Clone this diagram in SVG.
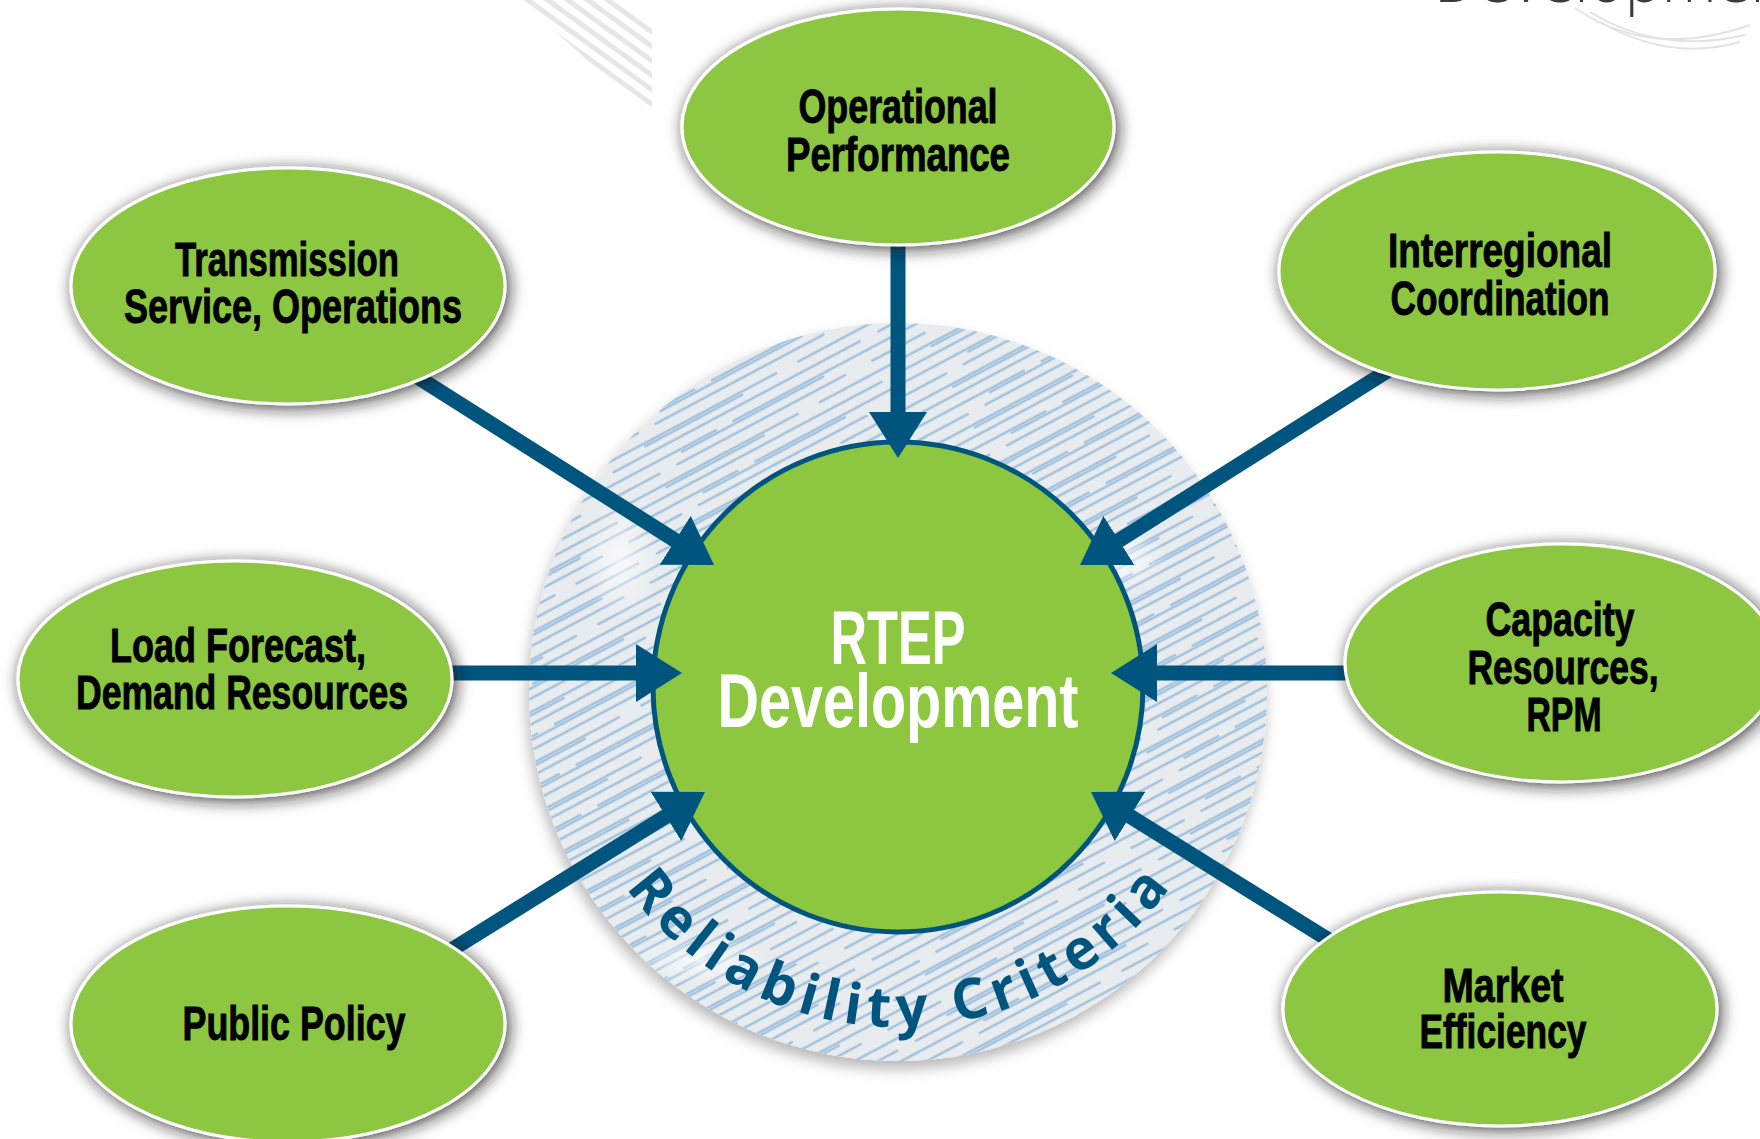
<svg xmlns="http://www.w3.org/2000/svg" width="1760" height="1139" viewBox="0 0 1760 1139">
<style>
.node{fill:#8dc63f;stroke:#ffffff;stroke-width:3;filter:url(#sh)}
.lbl{font-family:"Liberation Sans",Arial,sans-serif;font-weight:700;font-size:48px;fill:#000;stroke:#000;stroke-width:0.9;text-anchor:middle}
.ctr{font-family:"Liberation Sans",Arial,sans-serif;font-weight:700;font-size:76px;fill:#fff;text-anchor:middle}
.conn{stroke:#00557f;stroke-width:15;fill:none;marker-end:url(#ah)}
.rc{font-family:"Open Sans","Noto Sans","Liberation Sans",sans-serif;font-weight:700;font-size:56px;fill:#00557f}
.deco{stroke:#e6e6e6;stroke-width:5;fill:none}
</style>
<defs>
<filter id="sh" x="-20%" y="-20%" width="140%" height="140%">
<feDropShadow dx="3" dy="3" stdDeviation="8" flood-color="#1e1e1e" flood-opacity="0.8"/>
</filter>
<filter id="rsh" x="-10%" y="-10%" width="120%" height="125%">
<feDropShadow dx="-2" dy="8" stdDeviation="7" flood-color="#000" flood-opacity="0.28"/>
</filter>
<pattern id="hatch" width="300" height="46" patternUnits="userSpaceOnUse" patternTransform="rotate(-28)">
<rect width="300" height="46" fill="#e8ecee"/>
<g stroke="#a3c2de" stroke-width="2.4" fill="none" stroke-linecap="round">
<path d="M0 4H210M235 4H300"/>
<path d="M60 7H170"/>
<path d="M20 15H300"/>
<path d="M0 26H130M150 26H300"/>
<path d="M90 29H250"/>
<path d="M0 38H60M80 38H270"/>
</g>
</pattern>
<radialGradient id="smudge" cx="50%" cy="50%" r="50%">
<stop offset="0" stop-color="#ffffff" stop-opacity="0.7"/>
<stop offset="1" stop-color="#ffffff" stop-opacity="0"/>
</radialGradient>
<marker id="ah" markerUnits="userSpaceOnUse" markerWidth="46" markerHeight="58" viewBox="0 0 46 58" refX="16" refY="29" orient="auto">
<path d="M0 0L46 29L0 58Z" fill="#00557f"/>
</marker>
<path id="rcpath" d="M563 692A335 335 0 0 0 1233 692"/>
<clipPath id="decoclip"><polygon points="520,0 652,0 652,118"/></clipPath>
</defs>
<rect width="1760" height="1139" fill="#ffffff"/>

<g id="decoration">
<g clip-path="url(#decoclip)" class="deco">
<path d="M520 -20L700 110M540 -20L720 110M560 -20L740 110M580 -20L760 110M500 -20L680 110M480 -20L660 110M460 -20L640 110M440 -20L620 110M420 -20L600 110"/>
</g>
<g stroke="#e2e2e2" stroke-width="2" fill="none">
<path d="M1575 8Q1650 60 1750 25"/>
<path d="M1590 12Q1660 55 1745 35"/>
<path d="M1600 22Q1670 62 1740 42"/>
</g>
<text x="1434" y="2" font-family="'Open Sans','Liberation Sans',sans-serif" font-weight="300" font-size="62" fill="#3a3a3a">Development</text>
</g>

<g id="ring">
<circle cx="898" cy="692" r="369" fill="url(#hatch)" filter="url(#rsh)"/>
<ellipse cx="700" cy="960" rx="70" ry="25" fill="url(#smudge)"/>
<ellipse cx="1120" cy="560" rx="50" ry="30" fill="url(#smudge)"/>
<ellipse cx="620" cy="560" rx="40" ry="60" fill="url(#smudge)"/>
<text class="rc"><textPath href="#rcpath" startOffset="50%" text-anchor="middle" textLength="635" lengthAdjust="spacing">Reliability Criteria</textPath></text>
</g>

<g id="rtep">
<circle cx="898" cy="687" r="245" fill="#8dc63f" stroke="#00557f" stroke-width="5"/>
<text class="ctr"><tspan x="898" y="664" textLength="135" lengthAdjust="spacingAndGlyphs">RTEP</tspan><tspan x="898" y="727" textLength="361" lengthAdjust="spacingAndGlyphs">Development</tspan></text>
</g>

<g id="connectors">
<line class="conn" x1="898" y1="230" x2="898" y2="428"/>
<line class="conn" x1="400" y1="366" x2="688.7" y2="548.9"/>
<line class="conn" x1="1400" y1="363" x2="1105.4" y2="549"/>
<line class="conn" x1="440" y1="673" x2="652" y2="673"/>
<line class="conn" x1="1365" y1="673" x2="1141" y2="673"/>
<line class="conn" x1="440" y1="957" x2="679.5" y2="807.9"/>
<line class="conn" x1="1345" y1="950" x2="1116.5" y2="807.9"/>
</g>

<g id="node-operational">
<ellipse class="node" cx="898" cy="127" rx="216" ry="118"/>
<text class="lbl"><tspan x="898" y="123" textLength="199" lengthAdjust="spacingAndGlyphs">Operational</tspan><tspan x="898" y="171" textLength="224" lengthAdjust="spacingAndGlyphs">Performance</tspan></text>
</g>

<g id="node-transmission">
<ellipse class="node" cx="288" cy="286" rx="217" ry="118"/>
<text class="lbl"><tspan x="287" y="276" textLength="224" lengthAdjust="spacingAndGlyphs">Transmission</tspan><tspan x="293" y="323" textLength="338" lengthAdjust="spacingAndGlyphs">Service, Operations</tspan></text>
</g>

<g id="node-interregional">
<ellipse class="node" cx="1497" cy="271" rx="218" ry="119"/>
<text class="lbl"><tspan x="1500" y="267" textLength="224" lengthAdjust="spacingAndGlyphs">Interregional</tspan><tspan x="1500" y="315" textLength="219" lengthAdjust="spacingAndGlyphs">Coordination</tspan></text>
</g>

<g id="node-load">
<ellipse class="node" cx="235" cy="679" rx="217" ry="118"/>
<text class="lbl"><tspan x="238" y="662" textLength="256" lengthAdjust="spacingAndGlyphs">Load Forecast,</tspan><tspan x="242" y="709" textLength="332" lengthAdjust="spacingAndGlyphs">Demand Resources</tspan></text>
</g>

<g id="node-capacity">
<ellipse class="node" cx="1562" cy="663" rx="217" ry="119"/>
<text class="lbl"><tspan x="1560" y="636" textLength="149" lengthAdjust="spacingAndGlyphs">Capacity</tspan><tspan x="1563" y="684" textLength="191" lengthAdjust="spacingAndGlyphs">Resources,</tspan><tspan x="1564" y="731" textLength="75" lengthAdjust="spacingAndGlyphs">RPM</tspan></text>
</g>

<g id="node-public">
<ellipse class="node" cx="288" cy="1024" rx="217" ry="118"/>
<text class="lbl" x="294" y="1040" textLength="223" lengthAdjust="spacingAndGlyphs">Public Policy</text>
</g>

<g id="node-market">
<ellipse class="node" cx="1500" cy="1009" rx="217" ry="117"/>
<text class="lbl"><tspan x="1503" y="1002" textLength="121" lengthAdjust="spacingAndGlyphs">Market</tspan><tspan x="1503" y="1048" textLength="167" lengthAdjust="spacingAndGlyphs">Efficiency</tspan></text>
</g>
</svg>
